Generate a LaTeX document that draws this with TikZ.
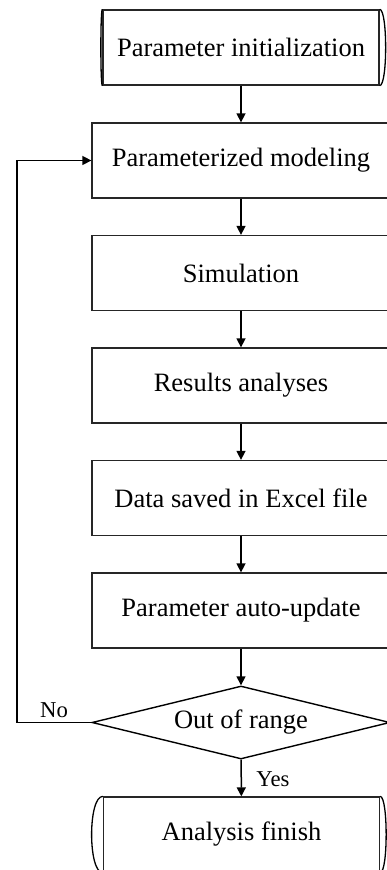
\documentclass[tikz,border=0pt]{standalone}
\usepackage{fontspec}
\setmainfont{Liberation Serif}
\usetikzlibrary{shapes.geometric,arrows.meta,positioning}

\begin{document}
\begin{tikzpicture}[x=0.5pt,y=-0.5pt,
    box/.style={draw=black!85, line width=0.65pt, minimum width=149pt, minimum height=37.5pt, inner sep=0pt, font=\fontsize{13.25}{15}\selectfont},
    term/.style={box, minimum width=138pt},
    decision/.style={diamond, aspect=4.08, draw=black, line width=0.7pt, minimum width=149pt, minimum height=36.5pt, inner sep=0pt, font=\fontsize{13.25}{15}\selectfont},
    lbl/.style={font=\fontsize{11.35}{13}\selectfont, inner sep=0pt},
    arr/.style={-{Triangle[length=4.5pt,width=4.5pt]}, line width=0.75pt}]
    \useasboundingbox (0,0) rectangle (386,870);

    % Start
    \node[term] (init) at (241,47.5) {Parameter initialization};
    \draw[line width=0.65pt] (init.north west) .. controls ([xshift=-1pt]init.north west) and ([xshift=-1pt]init.south west) .. (init.south west);
    \draw[line width=0.65pt] (init.north east) .. controls ([xshift=4pt]init.north east) and ([xshift=4pt]init.south east) .. (init.south east);

    % Process steps
    \node[box] (model) at (241,160.5) {Parameterized modeling};
    \node[box] (sim) at (241,273) {Simulation};
    \node[box] (res) at (241,385.5) {Results analyses};
    \node[box] (save) at (241,498) {Data saved in Excel file};
    \node[box] (upd) at (241,610.5) {Parameter auto-update};

    % Decision
    \node[decision] (check) at (241,722.5) {Out of range};

    % End
    \node[term] (finish) at (241.5,834.5) {Analysis finish};
    \draw[line width=0.65pt] (finish.north west) .. controls ([xshift=-7.5pt]finish.north west) and ([xshift=-7.5pt]finish.south west) .. (finish.south west);
    \draw[line width=0.65pt] (finish.north east) .. controls ([xshift=4pt]finish.north east) and ([xshift=4pt]finish.south east) .. (finish.south east);

    % Main flow
    \draw[arr] (init) -- (model);
    \draw[arr] (model) -- (sim);
    \draw[arr] (sim) -- (res);
    \draw[arr] (res) -- (save);
    \draw[arr] (save) -- (upd);
    \draw[arr] (upd) -- (check);
    \draw[arr] (check) -- (finish);

    % Loop back
    \coordinate (loop) at (17,722.5);
    \draw[arr] (check.west) -- (loop) |- (model.west);

    % Branch labels
    \node[lbl] (no) at (54,710) {No};
    \node[lbl] (yes) at (273,779) {Yes};
\end{tikzpicture}
\end{document}
